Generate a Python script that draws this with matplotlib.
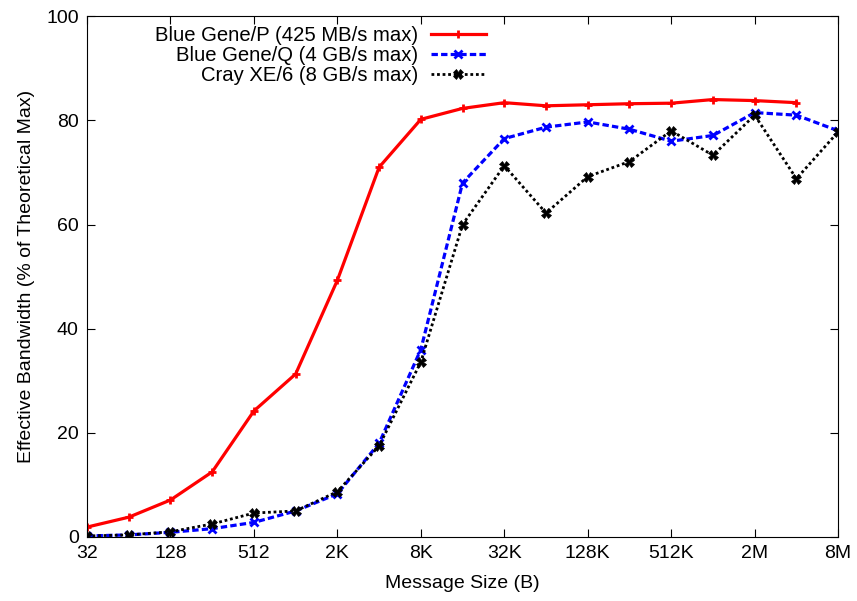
import numpy as np
from matplotlib import pyplot as plt

plt.rcParams['font.family'] = ['Liberation Sans', 'DejaVu Sans']

# message sizes as powers of two, 2^5 (32 B) .. 2^23 (8 MB)
exps = list(range(5, 24))
tick_exps = [5, 7, 9, 11, 13, 15, 17, 19, 21, 23]
tick_labels = ["32", "128", "512", "2K", "8K", "32K", "128K", "512K", "2M", "8M"]

bgp = [1.9, 3.8, 7.1, 12.5, 24.2, 31.3, 49.3, 71.0, 80.2, 82.3, 83.4, 82.8,
       83.0, 83.2, 83.3, 84.0, 83.8, 83.4]
bgq = [0.2, 0.4, 0.9, 1.6, 2.8, 5.0, 8.3, 18.0, 36.0, 68.0, 76.5, 78.7,
       79.7, 78.3, 76.0, 77.1, 81.5, 81.0, 78.0]
cray = [0.2, 0.4, 1.0, 2.5, 4.6, 5.0, 8.7, 17.5, 33.6, 60.0, 71.3, 62.2,
        69.2, 72.1, 78.0, 73.3, 81.0, 68.8, 77.8]

sizes = [2.0**e for e in exps]

fig = plt.figure(figsize=(8.57, 6.01), dpi=100)
ax = fig.add_axes([0.1015, 0.1065, 0.8765, 0.8665])

ax.plot(sizes[:len(bgp)], bgp, color="red", linewidth=2.3, marker="+",
        markersize=6, markeredgewidth=2, label="Blue Gene/P (425 MB/s max)")
ax.plot(sizes, bgq, color="blue", linewidth=2.3, linestyle=(0, (2, 1)), marker="x",
        markersize=6, markeredgewidth=2, label="Blue Gene/Q (4 GB/s max)")
ax.plot(sizes, cray, color="black", linewidth=2, linestyle=(0, (1, 1)), marker="X",
        markersize=7, markeredgewidth=0.5, label="Cray XE/6 (8 GB/s max)")

ax.set_xscale("log", base=2)
ax.set_xlim(2.0**5, 2.0**23)
ax.set_ylim(0, 100)
ax.set_xticks([2.0**e for e in tick_exps])
ax.set_xticklabels(tick_labels)
ax.minorticks_off()
ax.set_yticks([0, 20, 40, 60, 80, 100])
ax.tick_params(direction="in", top=True, right=True, labelsize=14, length=6, pad=6)

ax.set_xlabel("Message Size (B)", fontsize=14, labelpad=9)
ax.set_ylabel("Effective Bandwidth (% of Theoretical Max)", fontsize=14, labelpad=8)

ax.legend(loc="upper right", bbox_to_anchor=(0.531, 0.982), frameon=False, markerfirst=False,
          fontsize=14.6, handlelength=2.7, labelspacing=0.06, handletextpad=0.65,
          borderaxespad=0, borderpad=0)

fig.savefig("out.png", dpi=100)
